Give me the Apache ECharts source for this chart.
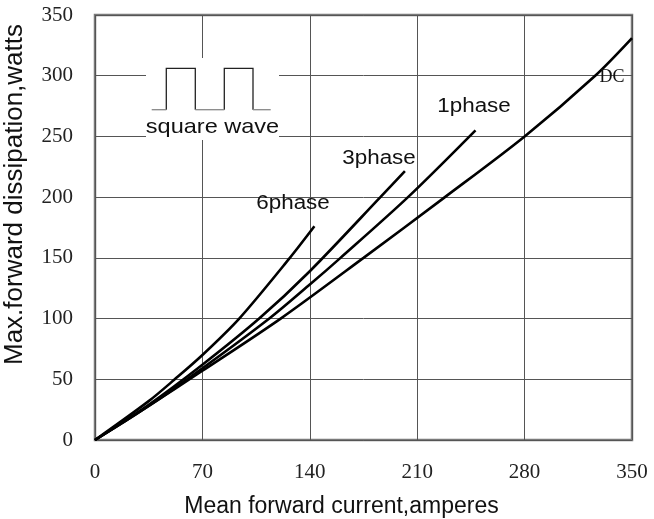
<!DOCTYPE html>
<html><head><meta charset="utf-8">
<script src="https://cdn.jsdelivr.net/npm/echarts@6/dist/echarts.min.js"></script>
<style>html,body{margin:0;padding:0;background:#fff}#c{width:654px;height:519px}</style>
</head><body><div id="c"></div>
<script>
const xTicks = [0, 70, 140, 210, 280, 350];
const yTicks = [0, 50, 100, 150, 200, 250, 300, 350];
const seriesNames = ['6phase', '3phase', '1phase', 'DC'];
const phase6 = [[0,0],[35,32],[52,50],[70,70],[94,100],[127,150],[143,176]];
const phase3 = [[0,0],[35,29],[70,62],[107,100],[140,139],[186,200],[202,221.5]];
const phase1 = [[0,0],[35,28],[70,59],[113.6,100],[140,128],[160,150],[204,200],[248,255]];
const dc = [[0,0],[35,28],[70,57],[121,100],[175,150],[227,199],[280,250],[326,300],[350,331]];

const chart = echarts.init(document.getElementById('c'), null, {renderer:'canvas'});
const lineStyle = {color:'#000', width:2.6};
function mk(name, data){
  return {name:name, type:'line', data:data, smooth:0.3, symbol:'none', lineStyle:lineStyle, z:3};
}
const sansFont = '"Liberation Sans", Arial';
function txt(t, x, y, font){
  return {type:'text', z:6, x:x, y:y, scaleX:1.12, style:{text:t, font:font || ('20px ' + sansFont), fill:'#111', textAlign:'center', textVerticalAlign:'middle'}};
}
chart.setOption({
  backgroundColor:'#fff',
  animation:false,
  grid:{left:95, right:22, top:15, bottom:79, show:true, borderColor:'#7a7a7a', borderWidth:2.5, containLabel:false, outerBoundsMode:'none'},
  xAxis:{type:'value', min:0, max:350, interval:70,
    name:'Mean forward current,amperes', nameLocation:'middle', nameGap:55,
    nameTextStyle:{fontFamily:'Liberation Sans, Arial', fontSize:23, color:'#111', padding:[0,44,0,0]},
    axisLine:{show:false}, axisTick:{show:false},
    axisLabel:{fontFamily:'Liberation Serif, serif', fontSize:21, color:'#222', margin:22},
    splitLine:{show:true, lineStyle:{color:'#555', width:1}}},
  yAxis:{type:'value', min:0, max:350, interval:50,
    name:'Max.forward dissipation,watts', nameLocation:'middle', nameGap:67, nameRotate:90,
    nameTextStyle:{fontFamily:'Liberation Sans, Arial', fontSize:26, color:'#111', padding:[0,0,0,66]},
    axisLine:{show:false}, axisTick:{show:false},
    axisLabel:{fontFamily:'Liberation Serif, serif', fontSize:21, color:'#222', margin:22},
    splitLine:{show:true, lineStyle:{color:'#555', width:1}}},
  series:[mk(seriesNames[0], phase6), mk(seriesNames[1], phase3), mk(seriesNames[2], phase1), mk(seriesNames[3], dc)],
  graphic:[
    {type:'rect', z:5, shape:{x:146, y:58, width:133, height:82}, style:{fill:'#fff'}},
    {type:'polyline', z:6, shape:{points:[[166.3,109.7],[166.3,68.3],[195.3,68.3],[195.3,109.7]]}, style:{stroke:'#222', lineWidth:1.3, fill:null}},
    {type:'polyline', z:6, shape:{points:[[224.3,109.7],[224.3,68.3],[253,68.3],[253,109.7]]}, style:{stroke:'#222', lineWidth:1.3, fill:null}},
    {type:'line', z:6, shape:{x1:151.7, y1:109.7, x2:166.3, y2:109.7}, style:{stroke:'#888', lineWidth:1.3}},
    {type:'line', z:6, shape:{x1:195.3, y1:109.7, x2:224.3, y2:109.7}, style:{stroke:'#888', lineWidth:1.3}},
    {type:'line', z:6, shape:{x1:253, y1:109.7, x2:270.7, y2:109.7}, style:{stroke:'#888', lineWidth:1.3}},
    txt('square wave', 212.5, 127, '21px ' + sansFont),
    txt('6phase', 293, 203),
    txt('3phase', 379, 158),
    txt('1phase', 474, 106),
    {type:'text', z:6, x:612, y:77, style:{text:'DC', font:'18px "Liberation Serif", serif', fill:'#111', textAlign:'center', textVerticalAlign:'middle'}}
  ]
});
</script></body></html>
